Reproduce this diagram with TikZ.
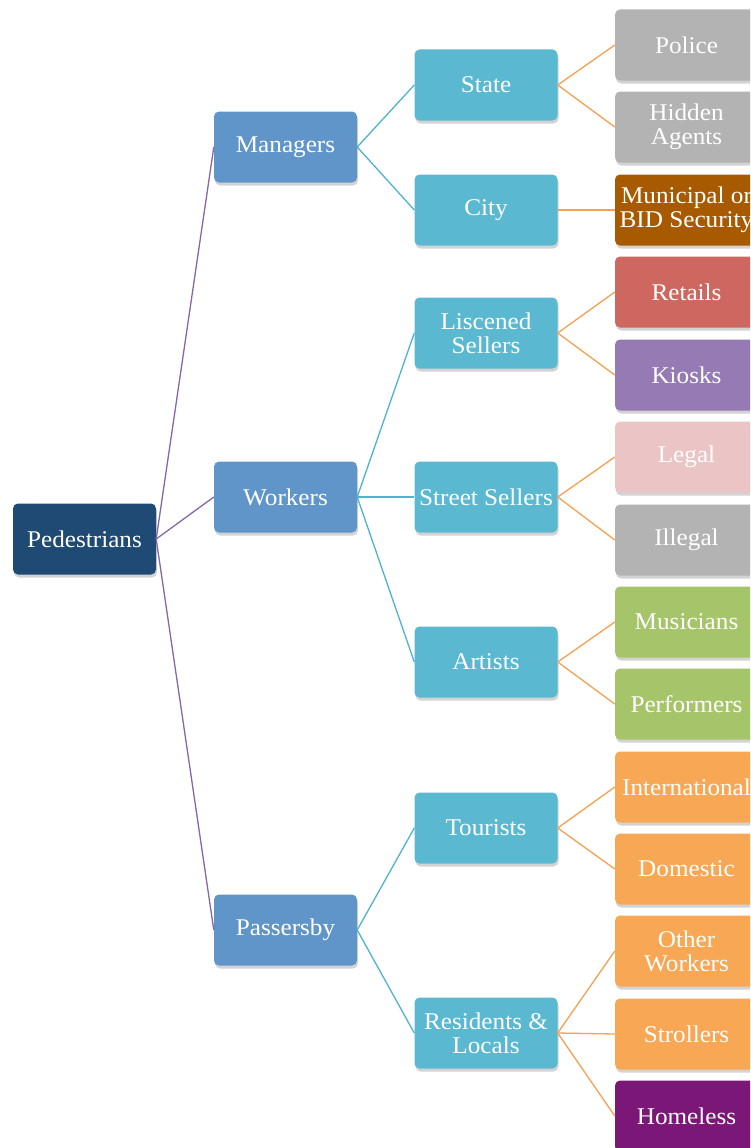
\documentclass[tikz,border=0pt]{standalone}
\usepackage{fontspec}
\setmainfont{Liberation Serif}[FakeStretch=1.05]
\usetikzlibrary{shadows}
\definecolor{cRoot}{HTML}{1F4A73}
\definecolor{cOne}{HTML}{6095C9}
\definecolor{cTwo}{HTML}{5BB8D1}
\definecolor{cGray}{HTML}{B3B3B3}
\definecolor{cBrown}{HTML}{A85A00}
\definecolor{cRed}{HTML}{CD6760}
\definecolor{cLav}{HTML}{957AB4}
\definecolor{cPink}{HTML}{EBC5C5}
\definecolor{cGreen}{HTML}{A6C46A}
\definecolor{cOrange}{HTML}{F8A755}
\definecolor{cPurple}{HTML}{7B1877}
\definecolor{lPurple}{HTML}{8467A8}
\definecolor{lTeal}{HTML}{4FB3CC}
\definecolor{lOrange}{HTML}{F7A050}
\tikzset{
  box/.style={draw=none, rounded corners=5pt, minimum width=143pt, minimum height=71pt,
    align=center, text=white, inner sep=0pt,
    font=\fontsize{24}{24}\selectfont,
    drop shadow={shadow xshift=1pt, shadow yshift=-3pt, opacity=0.35}},
  rootbox/.style={box, fill=cRoot},
  onebox/.style={box, fill=cOne},
  twobox/.style={box, fill=cTwo},
  leaf/.style={box, fill=#1},
  linkA/.style={draw=lPurple, line width=1.3pt},
  linkB/.style={draw=lTeal, line width=1.3pt},
  linkC/.style={draw=lOrange, line width=1.3pt}
}
\begin{document}
\begin{tikzpicture}[x=1pt,y=-1pt]
\useasboundingbox (0,0) rectangle (750,1148);
\clip (0,0) rectangle (750,1148);
% root
\node[rootbox] (ped) at (84.5,539) {Pedestrians};
% level 1
\node[onebox] (man) at (285.5,147) {Managers};
\node[onebox] (wor) at (285.5,497) {Workers};
\node[onebox] (pas) at (285.5,930) {Passersby};
% level 2
\node[twobox] (sta) at (486,85) {State};
\node[twobox] (cit) at (486,210) {City};
\node[twobox] (lis) at (486,333) {Liscened\\Sellers};
\node[twobox] (str) at (486,497) {Street Sellers};
\node[twobox] (art) at (486,662) {Artists};
\node[twobox] (tou) at (486,828) {Tourists};
\node[twobox] (res) at (486,1033) {Residents \&\\Locals};
% leaves
\node[leaf=cGray] (pol) at (686.5,45) {Police};
\node[leaf=cGray] (hid) at (686.5,127) {Hidden\\Agents};
\node[leaf=cBrown] (mun) at (686.5,210) {Municipal or\\BID Security};
\node[leaf=cRed] (ret) at (686.5,292) {Retails};
\node[leaf=cLav] (kio) at (686.5,375) {Kiosks};
\node[leaf=cPink] (leg) at (686.5,457) {Legal};
\node[leaf=cGray] (ill) at (686.5,540) {Illegal};
\node[leaf=cGreen] (mus) at (686.5,622) {Musicians};
\node[leaf=cGreen] (per) at (686.5,704) {Performers};
\node[leaf=cOrange] (int) at (686.5,787) {International};
\node[leaf=cOrange] (dom) at (686.5,869) {Domestic};
\node[leaf=cOrange] (oth) at (686.5,951) {Other\\Workers};
\node[leaf=cOrange] (stro) at (686.5,1034) {Strollers};
\node[leaf=cPurple] (hom) at (686.5,1116) {Homeless};
% connectors
\draw[linkA] (ped.east) -- (man.west);
\draw[linkA] (ped.east) -- (wor.west);
\draw[linkA] (ped.east) -- (pas.west);
\draw[linkB] (man.east) -- (sta.west);
\draw[linkB] (man.east) -- (cit.west);
\draw[linkB] (wor.east) -- (lis.west);
\draw[linkB] (wor.east) -- (str.west);
\draw[linkB] (wor.east) -- (art.west);
\draw[linkB] (pas.east) -- (tou.west);
\draw[linkB] (pas.east) -- (res.west);
\draw[linkC] (sta.east) -- (pol.west);
\draw[linkC] (sta.east) -- (hid.west);
\draw[linkC] (cit.east) -- (mun.west);
\draw[linkC] (lis.east) -- (ret.west);
\draw[linkC] (lis.east) -- (kio.west);
\draw[linkC] (str.east) -- (leg.west);
\draw[linkC] (str.east) -- (ill.west);
\draw[linkC] (art.east) -- (mus.west);
\draw[linkC] (art.east) -- (per.west);
\draw[linkC] (tou.east) -- (int.west);
\draw[linkC] (tou.east) -- (dom.west);
\draw[linkC] (res.east) -- (oth.west);
\draw[linkC] (res.east) -- (stro.west);
\draw[linkC] (res.east) -- (hom.west);
\end{tikzpicture}
\end{document}
